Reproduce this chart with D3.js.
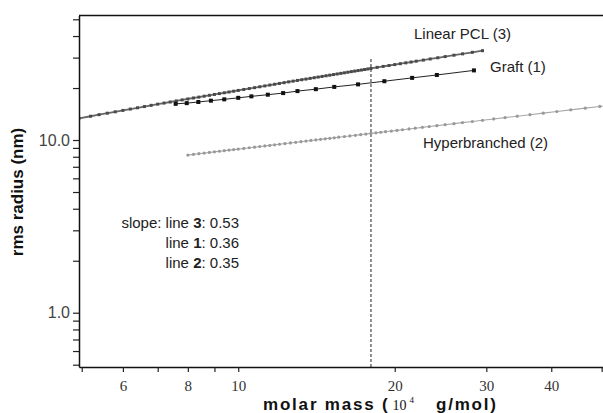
<!DOCTYPE html>
<html>
<head>
<meta charset="utf-8">
<script src="https://cdn.jsdelivr.net/npm/d3@7"></script>
<style>
  body { margin: 0; background: #fff; }
  svg { display: block; }
</style>
</head>
<body>
<svg></svg>
<script>
// data (molar mass in 10^4 g/mol, rms radius in nm)
const linearMass = [4.94, 5.2, 5.4, 5.6, 5.8, 6.0, 6.2, 6.4, 6.6, 6.8, 7.0, 7.2, 7.4, 7.6, 7.8, 8.0, 8.2, 8.4, 8.6, 8.8, 9.0, 9.2, 9.4, 9.6, 9.8,
  10.0, 10.25, 10.5, 10.75, 11.0, 11.25, 11.5, 11.75, 12.0, 12.25, 12.5, 12.75, 13.0, 13.25, 13.5, 13.75, 14.0, 14.25, 14.5, 14.75,
  15.0, 15.25, 15.5, 15.75, 16.0, 16.25, 16.5, 16.75, 17.0, 17.25, 17.5, 17.75, 18.0, 18.5, 19.0, 19.5, 20.0, 20.5, 21.0, 21.5, 22.0,
  22.7, 23.4, 24.2, 25.0, 26.0, 27.0, 28.2, 29.5];
const linearRadius = [13.36, 13.73, 14.02, 14.30, 14.57, 14.84, 15.11, 15.37, 15.62, 15.88, 16.13, 16.37, 16.6, 16.84, 17.07, 17.29, 17.51, 17.72, 17.94, 18.15, 18.36, 18.57, 18.77, 18.97, 19.17,
  19.37, 19.62, 19.86, 20.10, 20.34, 20.57, 20.81, 21.03, 21.26, 21.48, 21.71, 21.93, 22.14, 22.34, 22.54, 22.75, 22.95, 23.15, 23.35, 23.55,
  23.74, 23.93, 24.12, 24.32, 24.50, 24.69, 24.88, 25.06, 25.24, 25.42, 25.60, 25.78, 25.96, 26.34, 26.68, 27.01, 27.34, 27.66, 27.98, 28.29, 28.61,
  29.03, 29.46, 29.94, 30.41, 30.98, 31.54, 32.20, 32.9];

const graftMass = [7.58, 7.96, 8.38, 8.86, 9.40, 10.0, 10.6, 11.4, 12.2, 13.0, 14.1, 15.3, 17.0, 19.1, 21.6, 24.1, 28.4];
const graftRadius = [16.2, 16.35, 16.6, 16.9, 17.2, 17.55, 17.9, 18.3, 18.7, 19.2, 19.7, 20.3, 21.0, 21.9, 22.9, 23.8, 25.3];

const hyperMass = [8.0, 8.2, 8.4, 8.6, 8.8, 9.0, 9.2, 9.4, 9.6, 9.8, 10.0, 10.25, 10.5, 10.75, 11.0, 11.25, 11.5, 11.75, 12.0,
  12.3, 12.6, 12.9, 13.2, 13.5, 13.8, 14.1, 14.4, 14.7, 15.0, 15.3, 15.6, 16.0, 16.4, 16.8, 17.2, 17.6, 18.0, 18.4, 18.8, 19.2,
  19.7, 20.2, 20.7, 21.3, 21.9, 22.6, 23.3, 24.1, 25.0, 26.0, 27.0, 28.2, 29.5, 31.0, 32.6, 34.4, 36.4, 38.6, 41.0, 43.6, 46.5, 49.6, 52.9];
const hyperRadius = [8.18, 8.26, 8.33, 8.40, 8.47, 8.54, 8.61, 8.67, 8.74, 8.80, 8.86, 8.94, 9.02, 9.09, 9.17, 9.24, 9.31, 9.38, 9.45,
  9.54, 9.62, 9.70, 9.78, 9.86, 9.94, 10.01, 10.09, 10.16, 10.23, 10.30, 10.38, 10.47, 10.56, 10.65, 10.74, 10.83, 10.92, 11.00, 11.09, 11.17,
  11.27, 11.37, 11.47, 11.59, 11.71, 11.84, 11.97, 12.11, 12.27, 12.44, 12.61, 12.80, 13.01, 13.24, 13.48, 13.74, 14.02, 14.31, 14.63, 14.95, 15.29, 15.65, 16.01];

// vertical marker line
const markerMass = [18.0, 18.0];
const markerRadius = [0.485, 29.8];

const seriesNames = ['Linear PCL (3)', 'Graft (1)', 'Hyperbranched (2)'];
const slopeLines = ['3', '1', '2'];
const slopeValues = ['0.53', '0.36', '0.35'];

const xTickValues = [5, 6, 7, 8, 9, 10, 20, 30, 40, 50];
const xTickLabels = ['', '6', '', '8', '', '10', '20', '30', '40', ''];
const yTickValues = [0.5, 0.6, 0.7, 0.8, 0.9, 1, 2, 3, 4, 5, 6, 7, 8, 9, 10, 20, 30, 40, 50];
const yTickLabels = ['', '', '', '', '', '1.0', '', '', '', '', '', '', '', '', '10.0', '', '', '', ''];

const WIDTH = 603;
const HEIGHT = 413;
const PLOT = { left: 79, right: 603, top: 15.5, bottom: 367 };

const svg = d3.select('svg')
  .attr('width', WIDTH)
  .attr('height', HEIGHT);

//scales
const xScale = d3.scaleLog().domain([4.94, 50.3]).range([PLOT.left, PLOT.right]);
const yScale = d3.scaleLog().domain([0.485, 52.6]).range([PLOT.bottom, PLOT.top]);

svg.append('clipPath')
  .attr('id', 'clip')
  .append('rect')
  .attr('x', PLOT.left)
  .attr('y', PLOT.top)
  .attr('width', PLOT.right - PLOT.left)
  .attr('height', PLOT.bottom - PLOT.top);

const zip = (xs, ys) => xs.map((m, i) => ({ m: m, r: ys[i] }));
const line = d3.line().x(d => xScale(d.m)).y(d => yScale(d.r));

const plot = svg.append('g').attr('clip-path', 'url(#clip)');

//dashed marker
plot.append('path')
  .datum(zip(markerMass, markerRadius))
  .attr('d', line)
  .attr('fill', 'none')
  .attr('stroke', '#555')
  .attr('stroke-width', 1.3)
  .attr('stroke-dasharray', '3,2');

//hyperbranched
const hyper = zip(hyperMass, hyperRadius);
plot.append('path')
  .datum(hyper)
  .attr('d', line)
  .attr('fill', 'none')
  .attr('stroke', '#a8a8a8')
  .attr('stroke-width', 1.1);
plot.selectAll('.hyper')
  .data(hyper)
  .enter()
  .append('circle')
  .classed('hyper', true)
  .attr('cx', d => xScale(d.m))
  .attr('cy', d => yScale(d.r))
  .attr('r', 1.6)
  .attr('fill', '#999');

//linear PCL
const linear = zip(linearMass, linearRadius);
plot.append('path')
  .datum(linear)
  .attr('d', line)
  .attr('fill', 'none')
  .attr('stroke', '#666')
  .attr('stroke-width', 1.8);
plot.selectAll('.linear')
  .data(linear)
  .enter()
  .append('rect')
  .classed('linear', true)
  .attr('x', d => xScale(d.m) - 1.5)
  .attr('y', d => yScale(d.r) - 1.5)
  .attr('width', 3)
  .attr('height', 3)
  .attr('fill', '#4a4a4a');

//graft
const graft = zip(graftMass, graftRadius);
plot.append('path')
  .datum(graft)
  .attr('d', line)
  .attr('fill', 'none')
  .attr('stroke', '#222')
  .attr('stroke-width', 1);
plot.selectAll('.graft')
  .data(graft)
  .enter()
  .append('rect')
  .classed('graft', true)
  .attr('x', d => xScale(d.m) - 2)
  .attr('y', d => yScale(d.r) - 2)
  .attr('width', 4)
  .attr('height', 4)
  .attr('fill', '#111');

//axes
const xAxis = svg.append('g')
  .attr('transform', `translate(0, ${PLOT.bottom})`)
  .call(d3.axisBottom(xScale)
    .tickValues(xTickValues)
    .tickFormat((d, i) => xTickLabels[i])
    .tickSize(5)
    .tickPadding(8)
    .tickSizeOuter(0));
xAxis.selectAll('text')
  .attr('font-family', '"Liberation Serif", "Times New Roman", serif')
  .attr('font-size', 15)
  .attr('fill', '#333');

const yAxis = svg.append('g')
  .attr('transform', `translate(${PLOT.left}, 0)`)
  .call(d3.axisLeft(yScale)
    .tickValues(yTickValues)
    .tickFormat((d, i) => yTickLabels[i])
    .tickSize(6)
    .tickPadding(3)
    .tickSizeOuter(0));
yAxis.selectAll('text')
  .attr('font-family', '"Liberation Sans", Arial, sans-serif')
  .attr('font-size', 16)
  .attr('fill', '#444');

svg.selectAll('.domain').attr('stroke', '#111').attr('stroke-width', 1.5);
svg.selectAll('.tick line').attr('stroke', '#222').attr('stroke-width', 1.2);

//top frame line
svg.append('line')
  .attr('x1', PLOT.left)
  .attr('x2', PLOT.right)
  .attr('y1', PLOT.top)
  .attr('y2', PLOT.top)
  .attr('stroke', '#111')
  .attr('stroke-width', 1.5);

//series labels
const sans = '"Liberation Sans", Arial, sans-serif';
const labelPos = [[414, 39], [490, 72], [423, 148]];
svg.selectAll('.series-label')
  .data(seriesNames)
  .enter()
  .append('text')
  .classed('series-label', true)
  .attr('x', (d, i) => labelPos[i][0])
  .attr('y', (d, i) => labelPos[i][1])
  .attr('font-family', sans)
  .attr('font-size', 15)
  .attr('fill', '#222')
  .text(d => d);

//slope notes
const notes = svg.selectAll('.note')
  .data(slopeLines)
  .enter()
  .append('text')
  .classed('note', true)
  .attr('x', 239)
  .attr('y', (d, i) => 228 + i * 19.8)
  .attr('text-anchor', 'end')
  .attr('font-family', sans)
  .attr('font-size', 15)
  .attr('fill', '#222');
notes.append('tspan').text((d, i) => (i === 0 ? 'slope: line ' : 'line '));
notes.append('tspan').attr('font-weight', 'bold').text(d => d);
notes.append('tspan').text((d, i) => ': ' + slopeValues[i]);

//axis titles
svg.append('text')
  .attr('transform', 'translate(23, 192) rotate(-90)')
  .attr('text-anchor', 'middle')
  .attr('font-family', sans)
  .attr('font-weight', 'bold')
  .attr('font-size', 17)
  .attr('fill', '#111')
  .text('rms radius (nm)');

const xTitle = svg.append('text')
  .attr('x', 263)
  .attr('y', 410)
  .attr('font-family', sans)
  .attr('font-weight', 'bold')
  .attr('font-size', 17)
  .attr('fill', '#111');
xTitle.append('tspan').attr('letter-spacing', 1.8).text('molar mass (');
xTitle.append('tspan')
  .attr('dx', 3)
  .attr('font-family', '"Liberation Serif", "Times New Roman", serif')
  .attr('font-weight', 'normal')
  .attr('font-size', 14)
  .text('10');
xTitle.append('tspan')
  .attr('dx', 3)
  .attr('dy', -7)
  .attr('font-family', '"Liberation Serif", "Times New Roman", serif')
  .attr('font-weight', 'normal')
  .attr('font-size', 9)
  .text('4');
xTitle.append('tspan')
  .attr('dx', 22)
  .attr('dy', 7)
  .attr('letter-spacing', 1.8)
  .text('g/mol)');
</script>
</body>
</html>
